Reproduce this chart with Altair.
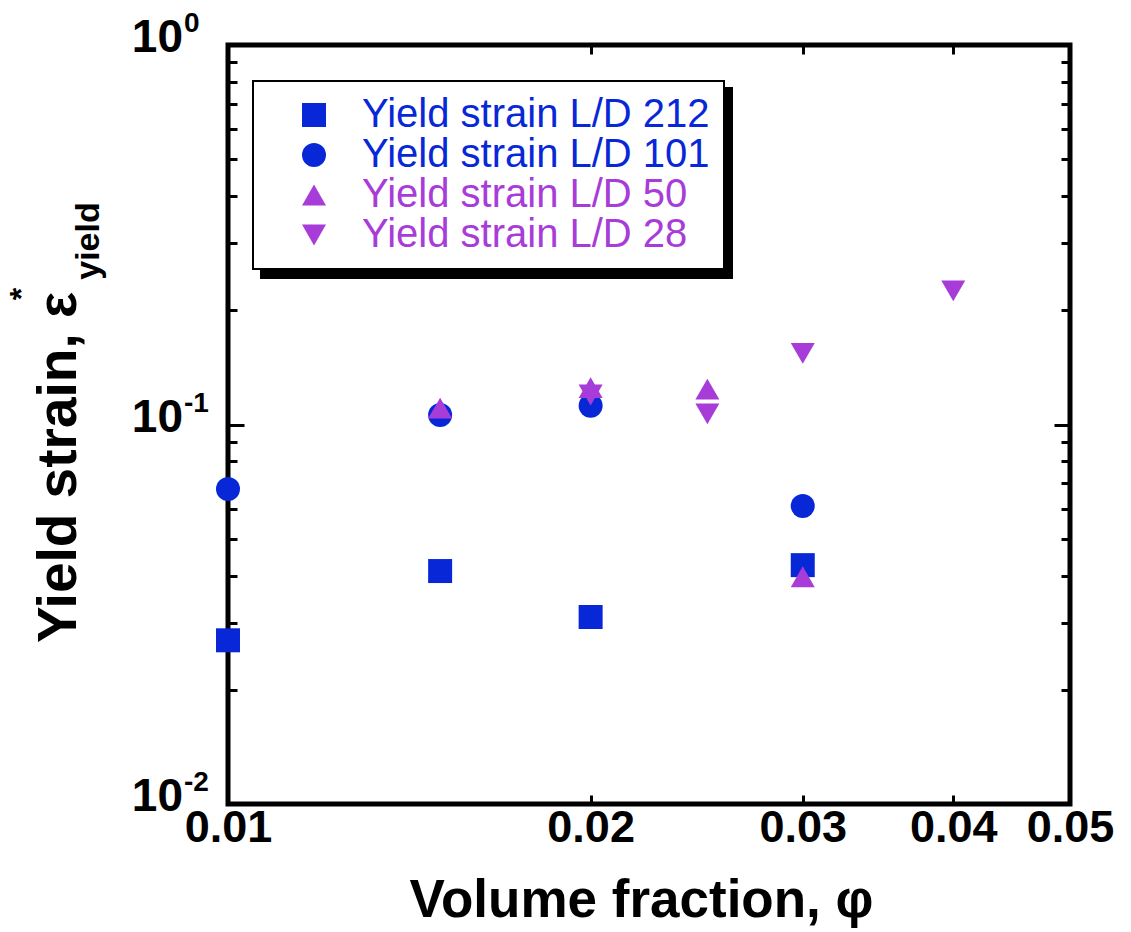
import altair as alt
import pandas as pd

# ---------------- data ----------------
series_names = ["Yield strain L/D 212", "Yield strain L/D 101",
                "Yield strain L/D 50", "Yield strain L/D 28"]
series_colors = ["#0828d8", "#0828d8", "#a83cd8", "#a83cd8"]
series_shapes = ["square", "circle", "triangle-up", "triangle-down"]

x_212 = [0.01, 0.015, 0.02, 0.03]
y_212 = [0.0270, 0.0411, 0.0311, 0.0426]
x_101 = [0.01, 0.015, 0.02, 0.03]
y_101 = [0.0676, 0.106, 0.112, 0.0610]
x_50 = [0.015, 0.02, 0.025, 0.03]
y_50 = [0.1105, 0.125, 0.124, 0.0397]
x_28 = [0.02, 0.025, 0.03, 0.04]
y_28 = [0.1196, 0.1066, 0.154, 0.225]

x_tick_vals = [0.01, 0.02, 0.03, 0.04, 0.05]
x_inner_ticks = [0.02, 0.03, 0.04]
y_major = [0.1]
y_minor = [0.02, 0.03, 0.04, 0.05, 0.06, 0.07, 0.08, 0.09,
           0.2, 0.3, 0.4, 0.5, 0.6, 0.7, 0.8, 0.9]
y_label_vals = [1, 0.1, 0.01]
y_label_base = ["10", "10", "10"]
y_label_exps = ["0", "-1", "-2"]

rows = []
for name, xs_, ys_ in zip(series_names, [x_212, x_101, x_50, x_28],
                          [y_212, y_101, y_50, y_28]):
    for a, b in zip(xs_, ys_):
        rows.append({"series": name, "phi": a, "eps": b})
df = pd.DataFrame(rows)

W, H = 842, 759
FONT = "Liberation Sans"

xs = alt.Scale(type="log", domain=[0.01, 0.05], nice=False)
ys = alt.Scale(type="log", domain=[0.01, 1], nice=False)

legend = alt.Legend(
    title=None, orient="none", legendX=25, legendY=36,
    fillColor="white", strokeColor="black",
    padding=14, cornerRadius=0,
    labelFont=FONT, labelFontSize=40, labelFontWeight="normal",
    labelColor={"expr": "scale('color', datum.value)"},
    symbolSize=576, symbolStrokeWidth=0, symbolOffset=27,
    labelOffset=28, rowPadding=0, labelLimit=600,
)

# legend drop shadow (decoration behind the legend box)
shadow = alt.Chart(pd.DataFrame({"k": [0]})).mark_rect(color="black").encode(
    x=alt.value(32), x2=alt.value(505), y=alt.value(42), y2=alt.value(234))

points = alt.Chart(df).mark_point(filled=True, size=576, opacity=1, strokeWidth=0).encode(
    x=alt.X("phi:Q", scale=xs, axis=alt.Axis(
        orient="bottom", values=x_tick_vals, format=".2f", ticks=False, domain=False,
        grid=False, labelFont=FONT, labelFontSize=45, labelFontWeight="bold",
        labelColor="black", labelPadding=1, labelFlush=False,
        title="Volume fraction, φ", titleFont=FONT, titleFontSize=53,
        titleFontWeight="bold", titleColor="black", titleX=413, titleY=112,
        titleBaseline="alphabetic", titleAlign="center")),
    y=alt.Y("eps:Q", scale=ys, axis=alt.Axis(
        orient="left", labels=False, ticks=False, domain=False, grid=False,
        title="Yield strain, ε", titleFont=FONT, titleFontSize=55,
        titleFontWeight="bold", titleColor="black", titleAngle=270,
        titleX=-153, titleY=422, titleAlign="center", titleBaseline="alphabetic")),
    color=alt.Color("series:N", scale=alt.Scale(domain=series_names, range=series_colors),
                    legend=legend),
    shape=alt.Shape("series:N", scale=alt.Scale(domain=series_names, range=series_shapes),
                    legend=legend),
    order=alt.Order("idx:Q"),
).transform_window(idx="row_number()")


def tick_layer(x_axis, y_axis):
    return alt.Chart(df).mark_point(opacity=0).encode(
        x=alt.X("phi:Q", scale=xs, axis=x_axis),
        y=alt.Y("eps:Q", scale=ys, axis=y_axis),
    )


def tick_axis(orient, offset, values, size):
    return alt.Axis(orient=orient, offset=offset, values=values, tickSize=size,
                    tickWidth=3, tickColor="black", labels=False, domain=False,
                    grid=False, title=None)


t1 = tick_layer(tick_axis("top", -H, x_inner_ticks, 9), tick_axis("right", -W, y_minor, 9))
t2 = tick_layer(tick_axis("bottom", -H, x_inner_ticks, 9), tick_axis("left", -W, y_minor, 9))
t3 = tick_layer(None, tick_axis("right", -W, y_major, 16))
t4 = tick_layer(None, tick_axis("left", -W, y_major, 16))

ylab_df = pd.DataFrame({"v": y_label_vals, "b": y_label_base, "e": y_label_exps})
ylab_base = alt.Chart(ylab_df).mark_text(
    align="right", baseline="alphabetic", font=FONT, fontSize=46,
    fontWeight="bold", color="black", dy=7).encode(
    x=alt.value(-45), y=alt.Y("v:Q", scale=ys, axis=None), text="b:N")
ylab_exp = alt.Chart(ylab_df).mark_text(
    align="left", baseline="alphabetic", font=FONT, fontSize=28,
    fontWeight="bold", color="black", dy=-13).encode(
    x=alt.value(-44), y=alt.Y("v:Q", scale=ys, axis=None), text="e:N")

sub_df = pd.DataFrame({"t": ["yield"]})
sup_df = pd.DataFrame({"t": ["*"]})
ysub = alt.Chart(sub_df).mark_text(
    angle=270, align="center", baseline="middle", font=FONT, fontSize=34,
    fontWeight="bold", color="black").encode(
    x=alt.value(-139), y=alt.value(196), text="t:N")
ysup = alt.Chart(sup_df).mark_text(
    angle=270, align="center", baseline="middle", font=FONT, fontSize=32,
    fontWeight="bold", color="black").encode(
    x=alt.value(-206), y=alt.value(249), text="t:N")

chart = alt.layer(shadow, t1, t2, t3, t4, points, ylab_base, ylab_exp, ysub, ysup).resolve_axis(
    x="independent", y="independent"
).properties(
    width=W, height=H,
    autosize=alt.AutoSizeParams(type="none"),
    padding={"left": 228, "top": 45, "right": 61, "bottom": 128},
    background="white",
).configure_view(stroke="black", strokeWidth=5).configure_legend(strokeWidth=2)

chart.save("out.html", embed_options={"renderer": "svg", "actions": False})
